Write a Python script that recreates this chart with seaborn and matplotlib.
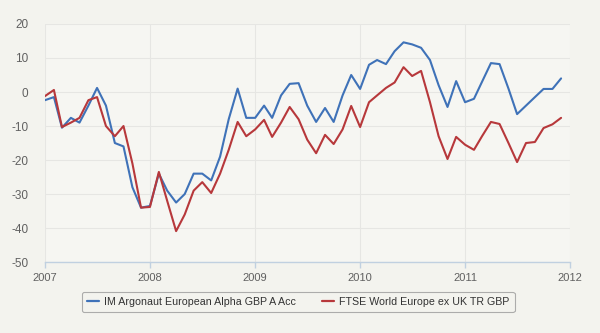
import matplotlib
matplotlib.use("Agg")
import matplotlib.pyplot as plt
import seaborn as sns
import pandas as pd
import numpy as np
from matplotlib.lines import Line2D

dates = pd.date_range("2007-01-01", periods=60, freq="MS")

fund_name = "IM Argonaut European Alpha GBP A Acc"
index_name = "FTSE World Europe ex UK TR GBP"

fund = [-2.4, -1.5, -10.5, -7.6, -9.0, -4.0, 1.2, -4.0, -15.0, -16.0,
        -28.0, -34.0, -33.5, -24.0, -29.0, -32.5, -30.0, -24.0, -24.0, -26.0,
        -19.0, -8.0, 1.0, -7.6, -7.6, -4.0, -7.6, -1.0, 2.4, 2.6,
        -4.0, -8.8, -4.7, -8.8, -1.0, 5.0, 0.9, 8.0, 9.4, 8.2,
        12.0, 14.6, 14.0, 13.0, 9.4, 2.0, -4.4, 3.2, -3.0, -2.0,
        3.0, 8.5, 8.2, 1.0, -6.5, -4.0, -1.5, 0.9, 0.9, 4.0]

bench = [-1.2, 0.6, -10.3, -9.0, -7.6, -2.4, -1.5, -10.0, -13.0, -10.0,
         -21.0, -34.0, -33.8, -23.5, -32.0, -40.9, -36.0, -29.0, -26.5, -29.7,
         -24.0, -17.0, -8.8, -13.0, -11.0, -8.2, -13.2, -9.0, -4.4, -8.0,
         -14.0, -18.0, -12.6, -15.3, -11.0, -4.1, -10.3, -3.0, -1.0, 1.2,
         2.8, 7.3, 4.7, 6.2, -3.0, -13.0, -19.7, -13.2, -15.5, -17.0,
         -13.0, -8.8, -9.4, -15.0, -20.6, -15.0, -14.7, -10.6, -9.5, -7.6]

x_ticks = ["2007", "2008", "2009", "2010", "2011", "2012"]
y_ticks = [-50, -40, -30, -20, -10, 0, 10, 20]

df = pd.DataFrame({
    "date": list(dates) * 2,
    "value": fund + bench,
    "series": [fund_name] * 60 + [index_name] * 60,
})

sns.set_theme(style="white")
plt.rcParams["font.family"] = ["Liberation Sans", "DejaVu Sans"]

bg = "#f3f3ee"
fig = plt.figure(figsize=(6, 3.33), dpi=100, facecolor=bg)
ax = fig.add_axes([0.075, 0.213, 0.875, 0.715])
ax.set_facecolor("#f6f6f2")

palette = {fund_name: "#3f72b8", index_name: "#b7383b"}
sns.lineplot(data=df, x="date", y="value", hue="series", palette=palette,
             linewidth=1.5, ax=ax, legend=False)
for ln in ax.get_lines():
    ln.set_solid_joinstyle("round")
    ln.set_solid_capstyle("round")

tick_dates = pd.to_datetime([f"{y}-01-01" for y in x_ticks])
ax.set_xlim(tick_dates[0], tick_dates[-1])
ax.set_ylim(-50, 20)
ax.set_xticks(tick_dates)
ax.set_xticklabels(x_ticks)
ax.set_yticks(y_ticks)
ax.set_yticklabels([str(v) for v in y_ticks])

ax.grid(True, color="#e6e6e3", linewidth=0.8)
ax.set_axisbelow(True)
for s in ["top", "right", "left"]:
    ax.spines[s].set_visible(False)
ax.spines["bottom"].set_color("#c0d0e0")
ax.spines["bottom"].set_linewidth(1.0)

ax.tick_params(axis="x", colors="#c0d0e0", length=4, width=1, direction="out",
               labelcolor="#606060", labelsize=8, pad=4, bottom=True)
ax.tick_params(axis="y", length=0, labelcolor="#606060", labelsize=8.5, pad=12)
ax.set_xlabel("")
ax.set_ylabel("")

handles = [Line2D([0], [0], color=palette[fund_name], lw=1.6),
           Line2D([0], [0], color=palette[index_name], lw=1.6)]
leg = fig.legend(handles, [fund_name, index_name], loc="center",
                 bbox_to_anchor=(0.497, 0.093), ncol=2, frameon=True,
                 fontsize=7.7, handlelength=1.1, handletextpad=0.5,
                 columnspacing=2.4, borderpad=0.5, fancybox=True)
leg.get_frame().set_edgecolor("#9a9a9a")
leg.get_frame().set_facecolor(bg)
leg.get_frame().set_linewidth(0.8)
for t in leg.get_texts():
    t.set_color("#333333")

fig.savefig("out.png", dpi=100, facecolor=bg)
